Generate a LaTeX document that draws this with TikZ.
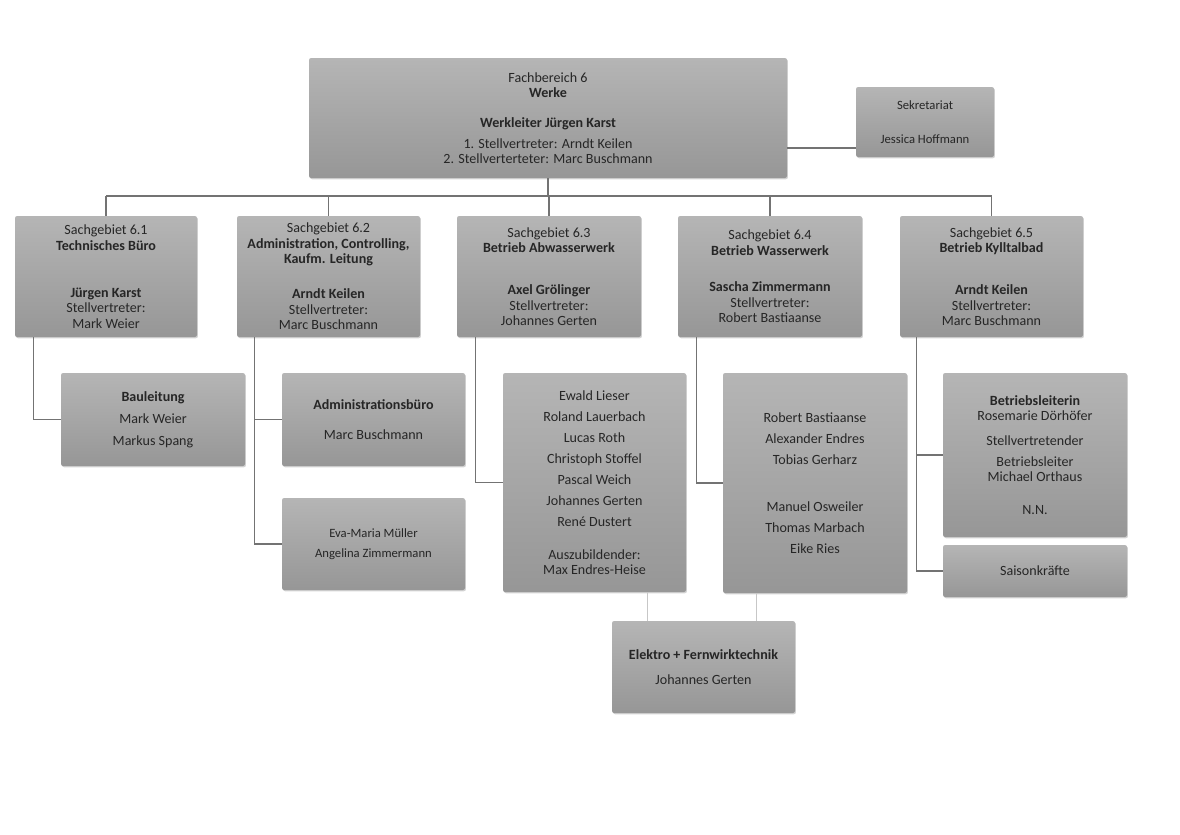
\documentclass[tikz,border=0pt]{standalone}
\usepackage{fontspec}
\setmainfont{Carlito}
\usepackage{tikz}
\usetikzlibrary{shadows}

\begin{document}
\begin{tikzpicture}[x=0.025cm, y=-0.025cm,
	orgbox/.style={rounded corners=1.5pt, top color=black!29, bottom color=black!41, draw=none,
		drop shadow={opacity=0.35, shadow xshift=0.7pt, shadow yshift=-0.9pt},
		align=center, inner sep=0pt, text=black!85, font=\fontsize{10}{11}\selectfont},
	boxsize/.style 2 args={minimum width=#1*0.025cm, minimum height=#2*0.025cm},
	orgline/.style={draw=black!55, line width=0.9pt},
	thinline/.style={draw=black!22, line width=0.5pt}]
\useasboundingbox (0,0) rectangle (1180,835);

% Leitung
\node[orgbox, boxsize={478}{120}] (fb6) at (548,118) {Fachbereich 6\\ \textbf{Werke}\\[10pt]
	\textbf{Werkleiter Jürgen Karst}\\[4pt] 1. Stellvertreter: Arndt Keilen\\ 2. Stellverterteter: Marc Buschmann};
\node[orgbox, boxsize={138}{70}, font=\fontsize{9}{11}\selectfont] (sek) at (925,122) {Sekretariat\\[13pt] Jessica Hoffmann};

% Sachgebiete
\node[orgbox, boxsize={182}{121}] (sg1) at (106,276.5) {Sachgebiet 6.1\\ \textbf{Technisches Büro}\\[22.5pt]
	\textbf{Jürgen Karst}\\ Stellvertreter:\\ Mark Weier};
\node[orgbox, boxsize={183}{121}] (sg2) at (328.5,276.5) {Sachgebiet 6.2\\ \textbf{Administration, Controlling,}\\ \textbf{Kaufm. Leitung}\\[14pt]
	\textbf{Arndt Keilen}\\ Stellvertreter:\\ Marc Buschmann};
\node[orgbox, boxsize={184}{121}] (sg3) at (549,276.5) {Sachgebiet 6.3\\ \textbf{Betrieb Abwasserwerk}\\[19pt]
	\textbf{Axel Grölinger}\\ Stellvertreter:\\ Johannes Gerten};
\node[orgbox, boxsize={184}{121}] (sg4) at (770,276.5) {Sachgebiet 6.4\\ \textbf{Betrieb Wasserwerk}\\[15pt]
	\textbf{Sascha Zimmermann}\\ Stellvertreter:\\ Robert Bastiaanse};
\node[orgbox, boxsize={183}{121}] (sg5) at (991.5,276.5) {Sachgebiet 6.5\\ \textbf{Betrieb Kylltalbad}\\[19pt]
	\textbf{Arndt Keilen}\\ Stellvertreter:\\ Marc Buschmann};

% Teams
\node[orgbox, boxsize={184}{93}] (bau) at (153,419.5) {\textbf{Bauleitung}\\[4.6pt] Mark Weier\\[4.6pt] Markus Spang};
\node[orgbox, boxsize={183}{93}] (admin) at (373.5,419.5) {\textbf{Administrationsbüro}\\[10pt] Marc Buschmann};
\node[orgbox, boxsize={183}{92}, font=\fontsize{9}{11}\selectfont] (team2) at (373.5,544) {Eva-Maria Müller\\[3pt] Angelina Zimmermann};
\node[orgbox, boxsize={183}{219}] (team3) at (594.5,482.5) {Ewald Lieser\\[4pt] Roland Lauerbach\\[4pt] Lucas Roth\\[4pt]
	Christoph Stoffel\\[4pt] Pascal Weich\\[4pt] Johannes Gerten\\[4pt] René Dustert\\[12pt] Auszubildender:\\ Max Endres-Heise};
\node[orgbox, boxsize={184}{220}] (team4) at (815,483) {Robert Bastiaanse\\[4pt] Alexander Endres\\[4pt] Tobias Gerharz\\[22.5pt]
	Manuel Osweiler\\[4pt] Thomas Marbach\\[4pt] Eike Ries};
\node[orgbox, boxsize={184}{164}] (bad) at (1035,455) {\textbf{Betriebsleiterin}\\ Rosemarie Dörhöfer\\[6.5pt]
	Stellvertretender\\[4pt] Betriebsleiter\\ Michael Orthaus\\[12.5pt] N.N.};
\node[orgbox, boxsize={184}{52}] (saison) at (1035,571) {Saisonkräfte};
\node[orgbox, boxsize={183}{92}] (elektro) at (703.5,667) {\textbf{Elektro + Fernwirktechnik}\\[7pt] Johannes Gerten};

% Linien
\coordinate (bus) at (548,196);
\draw[orgline] (fb6.south) -- (bus);
\draw[orgline] (sg1.north |- bus) -- (sg5.north |- bus);
\foreach \s in {sg1,sg2,sg3,sg4,sg5}{
	\draw[orgline] (\s.north |- bus) -- (\s.north);
}
\draw[orgline] ([yshift=-0.75cm]fb6.east) -- ([yshift=-0.75cm]fb6.east -| sek.west);

\draw[orgline] ([xshift=0.475cm]sg1.south west) |- (bau.west);
\draw[orgline] ([xshift=0.45cm]sg2.south west) coordinate (t2) |- (team2.west);
\draw[orgline] (admin.west) -| (t2);
\draw[orgline] ([xshift=0.475cm]sg3.south west) |- (team3.west);
\draw[orgline] ([xshift=0.475cm]sg4.south west) |- (team4.west);
\draw[orgline] ([xshift=0.425cm]sg5.south west) coordinate (t5) |- (saison.west);
\draw[orgline] (bad.west) -| (t5);

\draw[thinline] ([xshift=0.9cm]elektro.north west) -- ([xshift=0.9cm]elektro.north west |- team3.south);
\draw[thinline] ([xshift=3.625cm]elektro.north west) -- ([xshift=3.625cm]elektro.north west |- team4.south);
\end{tikzpicture}
\end{document}
